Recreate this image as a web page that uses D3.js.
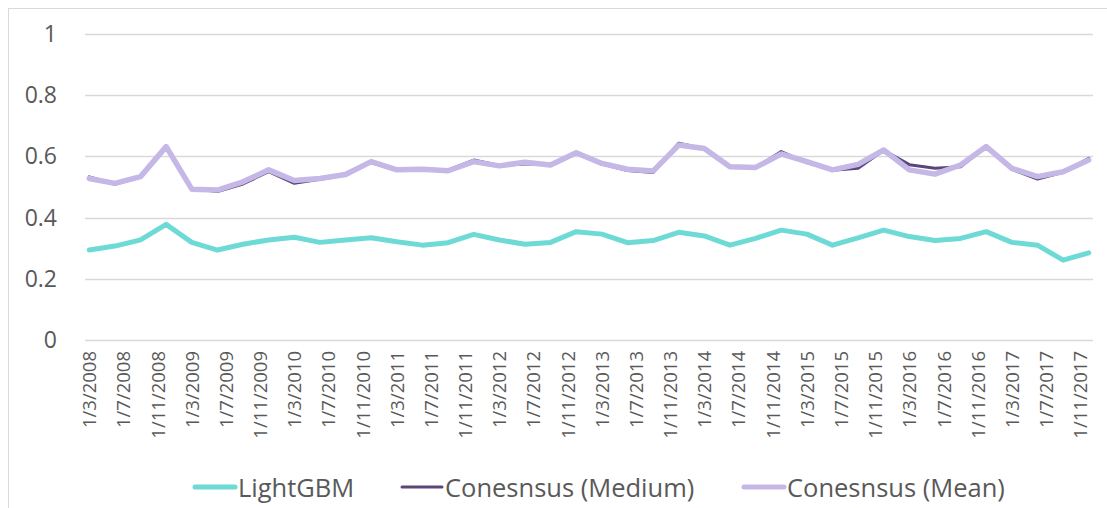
<!DOCTYPE html>
<html>
<head>
<meta charset="utf-8">
<script src="https://cdn.jsdelivr.net/npm/d3@7"></script>
<style>
  body { margin: 0; background: #fff; }
  svg { display: block; }
</style>
</head>
<body>
<svg width="1107" height="508"></svg>
<script>
// quarterly observations, first one on 1/3/2008
var startDate = new Date(2008, 2, 1);
var nPoints = 40;
var stepMonths = 3;

var lightgbm = [0.294, 0.307, 0.327, 0.378, 0.319, 0.294, 0.313, 0.327, 0.336, 0.319,
                0.327, 0.334, 0.321, 0.310, 0.318, 0.345, 0.327, 0.313, 0.319, 0.354,
                0.346, 0.318, 0.325, 0.352, 0.340, 0.310, 0.332, 0.359, 0.346, 0.310,
                0.334, 0.359, 0.338, 0.325, 0.332, 0.354, 0.319, 0.310, 0.261, 0.285];
var medium = [0.533, 0.509, 0.534, 0.632, 0.495, 0.485, 0.510, 0.550, 0.512, 0.525,
              0.540, 0.580, 0.555, 0.560, 0.555, 0.588, 0.570, 0.575, 0.575, 0.610,
              0.575, 0.554, 0.547, 0.643, 0.625, 0.565, 0.562, 0.616, 0.580, 0.555,
              0.561, 0.620, 0.573, 0.561, 0.566, 0.632, 0.558, 0.526, 0.548, 0.594];
var mean = [0.528, 0.512, 0.534, 0.632, 0.493, 0.490, 0.517, 0.556, 0.521, 0.528,
            0.541, 0.583, 0.556, 0.558, 0.553, 0.583, 0.569, 0.581, 0.572, 0.612,
            0.577, 0.558, 0.552, 0.637, 0.626, 0.566, 0.564, 0.608, 0.583, 0.556,
            0.574, 0.621, 0.556, 0.542, 0.572, 0.632, 0.561, 0.534, 0.550, 0.588];

var seriesNames = ["LightGBM", "Conesnsus (Medium)", "Conesnsus (Mean)"];
var seriesColors = ["#6ddad6", "#5b4679", "#c5b7e6"];
var yTicks = [0, 0.2, 0.4, 0.6, 0.8, 1];
var tickEveryMonths = 4;

var svg = d3.select("svg"),
    width = +svg.attr("width"),
    height = +svg.attr("height");

// chart frame (runs off the right/bottom of the picture)
svg.append("rect")
    .attr("x", 8.5).attr("y", 8.5)
    .attr("width", 1300).attr("height", 700)
    .attr("fill", "#fff")
    .attr("stroke", "#d9d9d9");

var plotLeft = 85, plotRight = 1093, plotTop = 34, plotBottom = 340;

var lastMonth = (nPoints - 1) * stepMonths;
var x = d3.scaleLinear()
    .domain([-0.5, lastMonth + 0.5])
    .range([plotLeft, plotRight]);
var y = d3.scaleLinear()
    .domain([0, 1])
    .range([plotBottom, plotTop]);

function monthIndex(d) {
    return (d.getFullYear() - startDate.getFullYear()) * 12 + d.getMonth() - startDate.getMonth();
}

var dates = d3.range(nPoints).map(function(i) {
    return d3.timeMonth.offset(startDate, i * stepMonths);
});
var tickDates = d3.timeMonth.range(startDate, d3.timeMonth.offset(startDate, lastMonth + 1))
    .filter(function(d) { return monthIndex(d) % tickEveryMonths === 0; });
var fmt = d3.timeFormat("%-d/%-m/%Y");

// gridlines
svg.append("g")
    .selectAll("line")
    .data(yTicks)
    .enter().append("line")
    .attr("x1", plotLeft).attr("x2", plotRight)
    .attr("y1", function(d) { return Math.round(y(d)) + 0.5; })
    .attr("y2", function(d) { return Math.round(y(d)) + 0.5; })
    .attr("stroke", "#d9d9d9")
    .attr("stroke-width", 1.5);

// y labels
svg.append("g")
    .selectAll("text")
    .data(yTicks)
    .enter().append("text")
    .attr("x", 57)
    .attr("y", function(d) { return y(d) + 8; })
    .attr("text-anchor", "end")
    .attr("font-family", "Open Sans")
    .attr("font-size", "23px")
    .attr("fill", "#595959")
    .text(function(d) { return d; });

// x labels, rotated
svg.append("g")
    .selectAll("text")
    .data(tickDates)
    .enter().append("text")
    .attr("transform", function(d) {
        return "translate(" + (x(monthIndex(d)) + 7) + "," + 351 + ") rotate(-90)";
    })
    .attr("text-anchor", "end")
    .attr("font-family", "Open Sans")
    .attr("font-size", "18.5px")
    .attr("fill", "#595959")
    .text(function(d) { return fmt(d); });

var line = d3.line()
    .x(function(d, i) { return x(monthIndex(dates[i])); })
    .y(function(d) { return y(d); });

var seriesData = [lightgbm, medium, mean];
var seriesWidths = [5, 3, 5.5];

svg.append("g")
    .selectAll("path")
    .data(seriesData)
    .enter().append("path")
    .attr("d", line)
    .attr("fill", "none")
    .attr("stroke", function(d, i) { return seriesColors[i]; })
    .attr("stroke-width", function(d, i) { return seriesWidths[i]; })
    .attr("stroke-linejoin", "round")
    .attr("stroke-linecap", "round");

// legend
var legendX = [193, 400, 742];
var legend = svg.append("g")
    .selectAll("g")
    .data(seriesNames)
    .enter().append("g")
    .attr("transform", function(d, i) { return "translate(" + legendX[i] + ",487)"; });

legend.append("line")
    .attr("x1", 2).attr("x2", 42)
    .attr("stroke", function(d, i) { return seriesColors[i]; })
    .attr("stroke-width", function(d, i) { return i === 1 ? 3 : 5; })
    .attr("stroke-linecap", "round");

legend.append("text")
    .attr("x", 45)
    .attr("y", 10)
    .attr("font-family", "Open Sans")
    .attr("font-size", "25.5px")
    .attr("fill", "#595959")
    .text(function(d) { return d; });
</script>
</body>
</html>
